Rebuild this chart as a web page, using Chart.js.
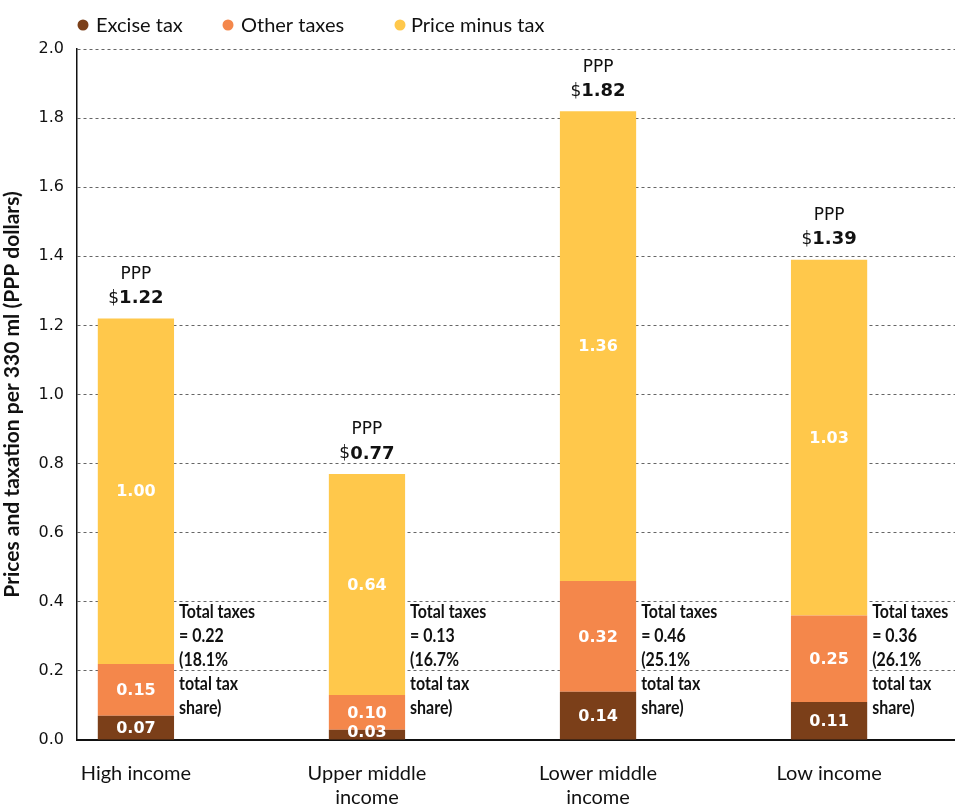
<!DOCTYPE html>
<html>
<head>
<meta charset="utf-8">
<script src="https://cdn.jsdelivr.net/npm/chart.js@4/dist/chart.umd.min.js"></script>
<style>
  html, body { margin: 0; padding: 0; background: #ffffff; }
  #wrap { width: 955px; height: 807px; position: relative; }
</style>
</head>
<body>
<div id="wrap"><canvas id="c" width="955" height="807"></canvas></div>
<script>
// ---- data ----
const categories = [["High income"], ["Upper middle", "income"], ["Lower middle", "income"], ["Low income"]];
const exciseTax = [0.07, 0.03, 0.14, 0.11];
const otherTaxes = [0.15, 0.10, 0.32, 0.25];
const priceMinusTax = [1.00, 0.64, 1.36, 1.03];
const totalPrice = ["1.22", "0.77", "1.82", "1.39"];
const totalTaxes = ["0.22", "0.13", "0.46", "0.36"];
const taxShare = ["18.1%", "16.7%", "25.1%", "26.1%"];
const seriesNames = ["Excise tax", "Other taxes", "Price minus tax"];
const seriesColors = ["#7B3F19", "#F4874B", "#FFC84B"];
const yTicks = [0, 0.2, 0.4, 0.6, 0.8, 1.0, 1.2, 1.4, 1.6, 1.8, 2.0];

const toPts = arr => arr.map((v, i) => ({ x: i, y: v }));

const labelPlugin = {
  id: 'labels',
  afterDatasetsDraw(chart) {
    const ctx = chart.ctx;
    const ys = chart.scales.y;
    ctx.save();
    // segment values
    ctx.fillStyle = '#ffffff';
    ctx.font = 'bold 16px "DejaVu Sans"';
    ctx.textAlign = 'center';
    ctx.textBaseline = 'middle';
    chart.data.datasets.forEach((ds, di) => {
      const meta = chart.getDatasetMeta(di);
      meta.data.forEach((bar, i) => {
        const top = bar.y, bottom = bar.base;
        let cy = (top + bottom) / 2 + 1;
        if (bottom - top < 14) cy = bottom - 7;
        ctx.fillText(ds.data[i].y.toFixed(2), bar.x, cy);
      });
    });
    // PPP labels and total taxes text
    const topMeta = chart.getDatasetMeta(2);
    topMeta.data.forEach((bar, i) => {
      const cx = bar.x, top = bar.y;
      ctx.fillStyle = '#111111';
      ctx.textAlign = 'center';
      ctx.textBaseline = 'middle';
      ctx.font = '17px "DejaVu Sans"';
      ctx.fillText('PPP', cx, top - 44);
      ctx.font = '17px "DejaVu Sans"';
      const w1 = ctx.measureText('$').width;
      ctx.font = 'bold 18px "DejaVu Sans"';
      const w2 = ctx.measureText(totalPrice[i]).width;
      const startX = cx - (w1 + w2) / 2;
      ctx.textAlign = 'left';
      ctx.font = '17px "DejaVu Sans"';
      ctx.fillText('$', startX, top - 20);
      ctx.font = 'bold 18px "DejaVu Sans"';
      ctx.fillText(totalPrice[i], startX + w1, top - 20);
      // total taxes annotation
      const half = bar.width / 2;
      const lx = cx + half + 5;
      const y0 = ys.getPixelForValue(0.372);
      const lines = ['Total taxes', '= ' + totalTaxes[i], '(' + taxShare[i], 'total tax', 'share)'];
      ctx.font = 'bold 19px Lato';
      ctx.textAlign = 'left';
      ctx.textBaseline = 'middle';
      lines.forEach((t, k) => {
        ctx.save();
        ctx.translate(lx, y0 + k * 24);
        ctx.scale(0.84, 1);
        ctx.fillText(t, 0, 0);
        ctx.restore();
      });
    });
    ctx.restore();
  },
  afterDraw(chart) {
    // legend
    const ctx = chart.ctx;
    ctx.save();
    const items = [{cx: 83, tx: 96}, {cx: 228, tx: 241}, {cx: 400, tx: 411}];
    ctx.font = '20px Lato';
    ctx.textBaseline = 'middle';
    ctx.textAlign = 'left';
    items.forEach((it, k) => {
      ctx.fillStyle = seriesColors[k];
      ctx.beginPath();
      ctx.arc(it.cx, 25, 5.5, 0, Math.PI * 2);
      ctx.fill();
      ctx.fillStyle = '#111111';
      ctx.fillText(seriesNames[k], it.tx, 26);
    });
    ctx.restore();
  }
};

new Chart(document.getElementById('c'), {
  type: 'bar',
  data: {
    datasets: [
      { label: seriesNames[0], data: toPts(exciseTax), backgroundColor: seriesColors[0] },
      { label: seriesNames[1], data: toPts(otherTaxes), backgroundColor: seriesColors[1] },
      { label: seriesNames[2], data: toPts(priceMinusTax), backgroundColor: seriesColors[2] }
    ]
  },
  options: {
    responsive: false,
    animation: false,
    devicePixelRatio: 1,
    categoryPercentage: 1,
    barPercentage: 0.33,
    layout: { padding: { top: 49, right: 0, left: 0, bottom: 0 } },
    plugins: { legend: { display: false }, tooltip: { enabled: false } },
    scales: {
      x: {
        type: 'linear',
        stacked: true,
        offset: false,
        bounds: 'data',
        min: -0.255,
        max: 3.545,
        afterBuildTicks: s => { s.ticks = categories.map((c, i) => ({ value: i })); },
        afterFit: s => { s.height = 67; },
        grid: { display: false, drawTicks: false, offset: false },
        border: { display: true, color: '#111111', width: 2 },
        ticks: {
          autoSkip: false,
          maxRotation: 0,
          padding: 22,
          color: '#111111',
          font: { family: 'Lato', size: 20 },
          callback: (v) => { const i = Math.round(v); return categories[i] || ''; }
        }
      },
      y: {
        stacked: true,
        min: 0,
        max: 2,
        afterBuildTicks: s => { s.ticks = yTicks.map(v => ({ value: v })); },
        afterFit: s => { s.width = 77; },
        grid: { color: '#666666', lineWidth: 1, drawTicks: false },
        border: { display: true, color: '#111111', width: 1.5, dash: [3, 3] },
        ticks: {
          padding: 13,
          color: '#111111',
          font: { family: '"DejaVu Sans"', size: 16 },
          callback: v => Number(v).toFixed(1)
        },
        title: {
          display: true,
          text: 'Prices and taxation per 330 ml (PPP dollars)',
          color: '#111111',
          font: { family: 'Lato', size: 21, weight: 'bold' },
          padding: { top: 0, bottom: 2 }
        }
      }
    }
  },
  plugins: [labelPlugin]
});
</script>
</body>
</html>
